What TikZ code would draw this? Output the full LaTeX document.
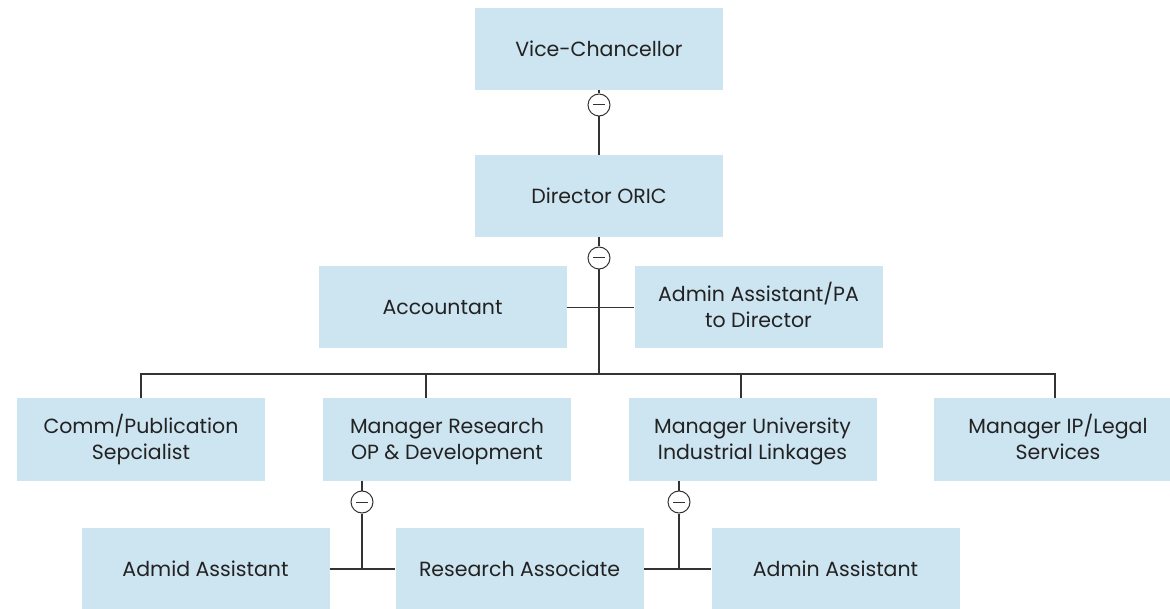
\documentclass[tikz,border=0pt]{standalone}
\usepackage{fontspec}
\setmainfont{Poppins}
\definecolor{boxfill}{HTML}{CDE4F1}
\definecolor{txt}{HTML}{222222}
\definecolor{ln}{HTML}{333333}
\newcommand{\st}{\rule[-5.8pt]{0pt}{26pt}}
\begin{document}
\begin{tikzpicture}[x=1pt,y=-1pt,
  box/.style={fill=boxfill,draw=none,minimum width=248pt,minimum height=82pt,inner sep=0pt,align=center,text=txt,font=\fontsize{20.5}{26}\selectfont},
  collapse/.style={circle,draw=ln,fill=white,line width=1pt,minimum size=22pt,inner sep=0pt,
    path picture={\draw[line width=1pt,ln] ([xshift=-6pt]path picture bounding box.center) -- ([xshift=6pt]path picture bounding box.center);}},
  conn/.style={draw=ln,line width=1.3pt}]
\useasboundingbox (0,0) rectangle (1170,609);
\clip (0,0) rectangle (1170,609);
\node[box] (vc) at (599,49) {Vice-Chancellor\st};
\node[box] (dir) at (599,196) {Director ORIC\st};
\node[box] (acc) at (442.5,307.5) {Accountant\st};
\node[box] (pa) at (758.5,307.5) {Admin Assistant/PA\st\\to Director\st};
\node[box] (comm) at (141,439.5) {Comm/Publication\st\\Sepcialist\st};
\node[box] (mr) at (447,439.5) {Manager Research\st\\OP \& Development\st};
\node[box] (mu) at (752.5,439.5) {Manager University\st\\Industrial Linkages\st};
\node[box] (ip) at (1058,439.5) {Manager IP/Legal\st\\Services\st};
\node[box] (aa1) at (205.5,569) {Admid Assistant\st};
\node[box] (ra) at (519.5,569) {Research Associate\st};
\node[box] (aa2) at (835.5,569) {Admin Assistant\st};
\node[collapse] (c1) at (599,105) {};
\node[collapse] (c2) at (599,258) {};
\node[collapse] (c3) at (362,502) {};
\node[collapse] (c4) at (679,502) {};
\coordinate (bus) at (599,374);
\coordinate (d2) at (426,374);
\coordinate (d3) at (741,374);
\coordinate (d4) at (1055,374);
\coordinate (j1) at (362,569);
\coordinate (j2) at (679,569);
\draw[conn] (vc) -- (c1);
\draw[conn] (c1) -- (dir);
\draw[conn] (dir) -- (c2);
\draw[conn] (c2) -- (bus);
\draw[conn] (acc.east) -- (pa.west);
\draw[conn] (comm.north) -- (comm.north |- bus) -- (d4) -- (d4 |- ip.north);
\draw[conn] (d2) -- (d2 |- mr.north);
\draw[conn] (d3) -- (d3 |- mu.north);
\draw[conn] (c3 |- mr.south) -- (c3);
\draw[conn] (c3) -- (j1);
\draw[conn] (aa1.east) -- (ra.west);
\draw[conn] (c4 |- mu.south) -- (c4);
\draw[conn] (c4) -- (j2);
\draw[conn] (ra.east) -- (aa2.west);
\end{tikzpicture}
\end{document}
